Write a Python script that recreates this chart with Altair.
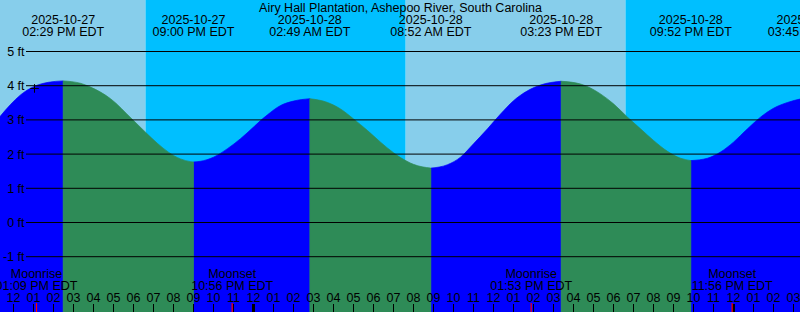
import altair as alt
import pandas as pd

# ---------------- data (hours counted from 2025-10-27 00:00 EDT) ----------------
TITLE = "Airy Hall Plantation, Ashepoo River, South Carolina"

tide_hours = [11.3, 11.85, 12.35, 13.0, 13.75, 14.483, 15.35, 15.85, 16.85, 17.935,
              18.6, 19.185, 19.765, 20.35, 20.85, 21.0, 21.35, 22.0, 22.7, 23.35,
              24.0, 24.35, 24.7, 25.35, 26.0, 26.817, 27.7, 28.35, 29.0, 29.7,
              30.35, 31.0, 31.35, 32.0, 32.867, 33.7, 34.35, 35.0, 35.7, 36.35,
              37.0, 37.7, 38.35, 39.383, 40.35, 41.35, 42.0, 42.7, 43.35, 44.0,
              44.7, 45.35, 45.867, 46.7, 47.35, 48.0, 48.7, 49.35, 50.0, 50.7, 51.4]
tide_feet = [3.08, 3.45, 3.73, 3.97, 4.10, 4.14, 4.07, 3.96, 3.62, 3.02,
             2.64, 2.32, 2.05, 1.86, 1.78, 1.77, 1.79, 1.91, 2.16, 2.45,
             2.79, 2.98, 3.15, 3.42, 3.55, 3.62, 3.51, 3.32, 3.03, 2.69,
             2.35, 2.04, 1.90, 1.70, 1.59, 1.69, 1.91, 2.30, 2.74, 3.17,
             3.56, 3.85, 4.02, 4.13, 4.05, 3.76, 3.47, 3.08, 2.74, 2.40,
             2.08, 1.88, 1.81, 1.88, 2.06, 2.35, 2.74, 3.08, 3.34, 3.51, 3.62]

event_hours = [14.483, 21.0, 26.817, 32.867, 39.383, 45.867, 51.75]
event_dates = ["2025-10-27", "2025-10-27", "2025-10-28", "2025-10-28",
               "2025-10-28", "2025-10-28", "2025-10-29"]
event_times = ["02:29 PM EDT", "09:00 PM EDT", "02:49 AM EDT", "08:52 AM EDT",
               "03:23 PM EDT", "09:52 PM EDT", "03:45 AM EDT"]

sun_hours = [11.3, 18.6, 31.6, 42.6, 51.4]          # edge, sunset, sunrise, sunset, edge
sun_kinds = ["day", "night", "day", "night"]

moon_hours = [13.15, 22.933, 37.883, 47.933]
moon_names = ["Moonrise", "Moonset", "Moonrise", "Moonset"]
moon_times = ["01:09 PM EDT", "10:56 PM EDT", "01:53 PM EDT", "11:56 PM EDT"]

foot_values = [5, 4, 3, 2, 1, 0, -1]
foot_labels = ["5 ft", "4 ft", "3 ft", "2 ft", "1 ft", "0 ft", "-1 ft"]

tick_hours = list(range(12, 52))
tick_labels = ["12", "01", "02", "03", "04", "05", "06", "07", "08", "09", "10", "11"] * 3 + \
              ["12", "01", "02", "03"]
midnight_hours = [24, 48]

now_hour = [13.05]
now_feet = [3.92]

# ---------------- build tables ----------------
X_DOMAIN = [11.325, 51.325]
Y_DOMAIN = [-2.617, 6.506]
xs = alt.Scale(domain=X_DOMAIN, nice=False, zero=False)
ys = alt.Scale(domain=Y_DOMAIN, nice=False, zero=False)

bounds = [tide_hours[0]] + event_hours[:-1] + [tide_hours[-1]]
rows = []
for i in range(len(bounds) - 1):
    a, b = bounds[i], bounds[i + 1]
    phase = "rise" if i % 2 == 0 else "fall"
    for h, f in zip(tide_hours, tide_feet):
        if a - 1e-9 <= h <= b + 1e-9:
            rows.append({"h": h, "ft": f, "seg": i, "phase": phase, "base": Y_DOMAIN[0]})
tide = pd.DataFrame(rows)

bands = pd.DataFrame({"start": sun_hours[:-1], "end": sun_hours[1:], "kind": sun_kinds})
events = pd.DataFrame({"h": event_hours, "date": event_dates, "time": event_times})
moon = pd.DataFrame({"h": moon_hours, "name": moon_names, "time": moon_times})
feet = pd.DataFrame({"ft": foot_values, "label": foot_labels})
ticks = pd.DataFrame({"h": tick_hours, "label": tick_labels})
mids = pd.DataFrame({"h": midnight_hours})
now = pd.DataFrame({"h": now_hour, "ft": now_feet})
title = pd.DataFrame({"t": [TITLE]})

FONT = "Liberation Sans"
FS = 12.5

X = lambda f: alt.X(f, scale=xs, axis=None)
Y = lambda f: alt.Y(f, scale=ys, axis=None)


def band(kind, colr):
    return alt.Chart(bands[bands.kind == kind]).mark_rect(color=colr).encode(
        x=X("start:Q"), x2="end:Q", y=alt.value(0), y2=alt.value(312))


def area(phase, colr):
    return alt.Chart(tide[tide.phase == phase]).mark_area(
        color=colr, stroke=colr, strokeWidth=0.7, interpolate="monotone").encode(
        x=X("h:Q"), y=Y("ft:Q"), y2="base:Q", detail="seg:N")


def txt(df, field, yv, **kw):
    return alt.Chart(df).mark_text(font=FONT, fontSize=FS, color="black",
                                   baseline="alphabetic", **kw).encode(
        x=X("h:Q"), y=alt.value(yv), text=f"{field}:N")


layers = [
    band("day", "#87ceeb"),
    band("night", "#00bfff"),
    area("rise", "#0000ff"),
    area("fall", "#2e8b57"),
    alt.Chart(feet).mark_rule(color="black", strokeWidth=1).encode(
        y=Y("ft:Q"), x=alt.value(26), x2=alt.value(800)),
    alt.Chart(feet).mark_text(font=FONT, fontSize=FS, color="black", align="right",
                              baseline="alphabetic", dy=4.5).encode(
        y=Y("ft:Q"), x=alt.value(24.5), text="label:N"),
    alt.Chart(title).mark_text(font=FONT, fontSize=FS, color="black", align="center",
                               baseline="alphabetic").encode(
        x=alt.value(400.5), y=alt.value(12), text="t:N"),
    txt(events, "date", 24, align="center"),
    txt(events, "time", 36, align="center"),
    txt(moon, "name", 277.5, align="center"),
    txt(moon, "time", 289.5, align="center"),
    txt(ticks, "label", 301.5, align="center"),
    alt.Chart(ticks).mark_rule(color="black", strokeWidth=1).encode(
        x=X("h:Q"), y=alt.value(304), y2=alt.value(312)),
    alt.Chart(mids).mark_rule(color="black", strokeWidth=3).encode(
        x=X("h:Q"), y=alt.value(304), y2=alt.value(312)),
    alt.Chart(moon).mark_rule(color="#ff0000", strokeWidth=1.2).encode(
        x=X("h:Q"), y=alt.value(303), y2=alt.value(312)),
    alt.Chart(now).mark_point(shape="M-1,0H1M0,-1V1", size=74, stroke="black",
                              strokeWidth=1, filled=False, opacity=1).encode(
        x=X("h:Q"), y=Y("ft:Q")),
]

chart = alt.layer(*layers).properties(
    width=800, height=312, padding=0, autosize="none", background="white"
).configure_view(strokeWidth=0)

chart.save("out.html", embed_options={"renderer": "svg", "actions": False})
